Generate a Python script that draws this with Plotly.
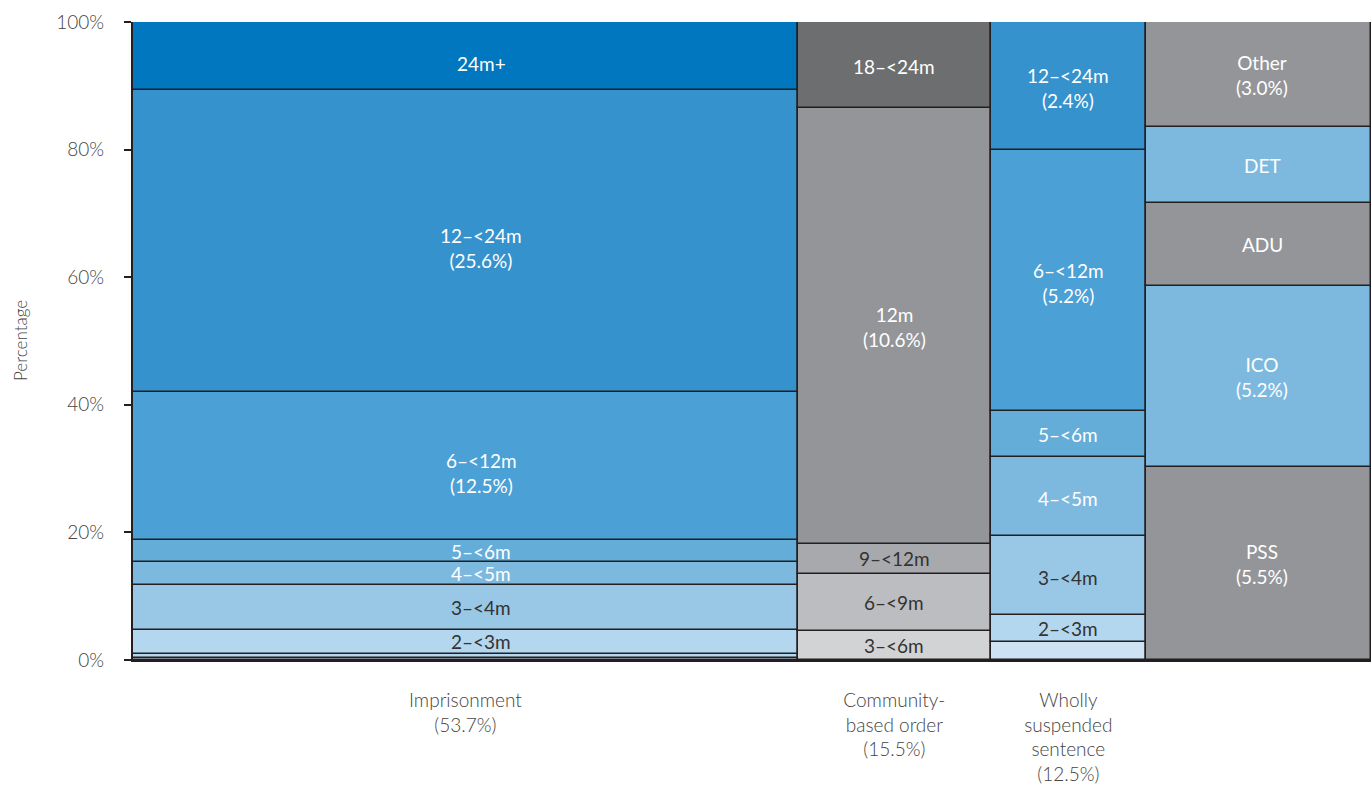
import plotly.graph_objects as go

# ---- data ----
col_labels = ["Imprisonment<br>(53.7%)", "Community-<br>based order<br>(15.5%)",
              "Wholly<br>suspended<br>sentence<br>(12.5%)", ""]
col_widths = [53.7, 15.6, 12.5, 18.2]

imp_labels = ["", "", "2–<3m", "3–<4m", "4–<5m", "5–<6m", "6–<12m<br>(12.5%)", "12–<24m<br>(25.6%)", "24m+"]
imp_values = [0.35, 0.6, 3.75, 7.06, 3.6, 3.44, 23.2, 47.3, 10.7]
imp_colors = ["#d6e8f5", "#b3d7ee", "#b3d7ee", "#99c8e6", "#7db9df", "#65add9", "#4ba0d6", "#3592cd", "#0077be"]
imp_text = ["#333333", "#333333", "#333333", "#333333", "white", "white", "white", "white", "white"]

cbo_labels = ["3–<6m", "6–<9m", "9–<12m", "12m<br>(10.6%)", "18–<24m"]
cbo_values = [4.55, 8.95, 4.7, 68.3, 13.5]
cbo_colors = ["#d2d3d5", "#bcbdc0", "#a8a9ac", "#939598", "#6d6e70"]
cbo_text = ["#333333", "#333333", "#333333", "white", "white"]

wss_labels = ["", "2–<3m", "3–<4m", "4–<5m", "5–<6m", "6–<12m<br>(5.2%)", "12–<24m<br>(2.4%)"]
wss_values = [2.8, 4.25, 12.35, 12.4, 7.2, 40.9, 20.1]
wss_colors = ["#cde3f3", "#b3d7ee", "#99c8e6", "#7db9df", "#65add9", "#4ba0d6", "#3592cd"]
wss_text = ["#333333", "#333333", "#333333", "white", "white", "white", "white"]

oth_labels = ["PSS<br>(5.5%)", "ICO<br>(5.2%)", "ADU", "DET", "Other<br>(3.0%)"]
oth_values = [30.25, 28.35, 13.0, 11.9, 16.5]
oth_colors = ["#939598", "#7db9df", "#939598", "#7db9df", "#939598"]
oth_text = ["white", "white", "white", "white", "white"]

y_ticks = [0, 20, 40, 60, 80, 100]

columns = [
    (imp_labels, imp_values, imp_colors, imp_text),
    (cbo_labels, cbo_values, cbo_colors, cbo_text),
    (wss_labels, wss_values, wss_colors, wss_text),
    (oth_labels, oth_values, oth_colors, oth_text),
]
label_xshift = [16, 0, 0, 4]
big_label_yshift = [-7, -1, -2, 0]

FONT = "Lato"
fig = go.Figure()
annotations = []
centers = []
left = 0.0
for (labels, values, colors, tcolors), w, xs, ys in zip(columns, col_widths, label_xshift, big_label_yshift):
    cx = left + w / 2
    centers.append(cx)
    base = 0.0
    for lab, v, c, tc in zip(labels, values, colors, tcolors):
        fig.add_trace(go.Bar(
            x=[cx], y=[v], base=[base], width=[w],
            marker=dict(color=c, line=dict(color="#231f20", width=1.5)),
            showlegend=False, hoverinfo="skip",
        ))
        if lab:
            annotations.append(dict(
                x=cx, y=base + v / 2, xref="x", yref="y", text=lab,
                showarrow=False, xshift=xs, yshift=(ys if v > 10 else 0),
                font=dict(family=FONT, size=19, color=tc),
                align="center",
            ))
        base += v
    left += w

annotations.append(dict(
    text="Percentage", xref="paper", yref="paper", x=0, y=0.5, xshift=-113,
    textangle=-90, showarrow=False, xanchor="center", yanchor="middle",
    font=dict(family=FONT, size=17, color="#444444", weight=300),
))

total = sum(col_widths)
fig.update_layout(
    width=1371, height=787,
    margin=dict(l=133, r=0, t=22, b=127),
    paper_bgcolor="white", plot_bgcolor="white",
    barmode="overlay", bargap=0,
    font=dict(family=FONT, size=19, color="#444444"),
    annotations=annotations,
    xaxis=dict(
        range=[0, total], tickvals=centers, ticktext=col_labels,
        showgrid=False, zeroline=False, showline=True,
        linecolor="#231f20", linewidth=2, ticks="",
        tickfont=dict(family=FONT, size=19, color="#444444", weight=300),
        ticklabelstandoff=22,
    ),
    yaxis=dict(
        range=[0, 100], tickvals=y_ticks, ticktext=[f"{t}%" for t in y_ticks],
        showgrid=False, zeroline=False, showline=True,
        linecolor="#231f20", linewidth=2,
        ticks="outside", ticklen=7, tickwidth=2, tickcolor="#231f20",
        tickfont=dict(family=FONT, size=19, color="#444444", weight=300),
        ticklabelstandoff=16,
    ),
)

fig.write_html("out.html", config={"displayModeBar": False},
               post_script="document.body.style.margin='0';")
